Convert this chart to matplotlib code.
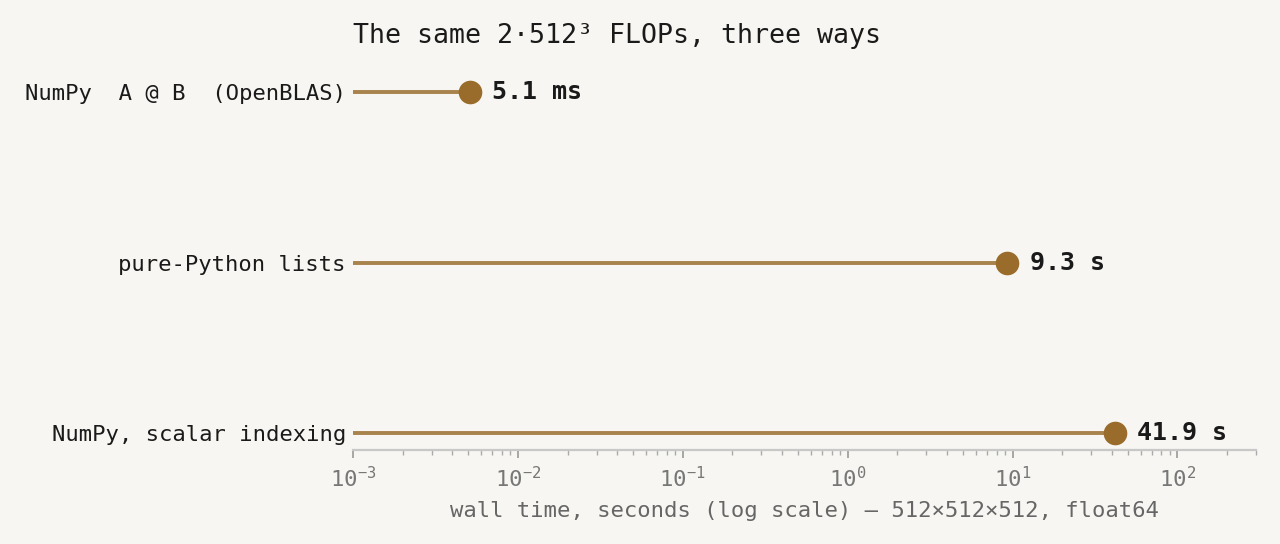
import matplotlib.pyplot as plt
import numpy as np

methods = ['NumPy  A @ B  (OpenBLAS)', 'pure-Python lists', 'NumPy, scalar indexing']
seconds = [0.0051, 9.3, 41.9]
value_labels = ['5.1 ms', '9.3 s', '41.9 s']

bg = '#f7f6f2'
line_c = '#a8834b'
dot_c = '#9a6c2c'

plt.rcParams['font.family'] = ['DejaVu Sans Mono']

fig = plt.figure(figsize=(6.4, 2.72), dpi=200, facecolor=bg)
ax = fig.add_axes([0.2758, 0.1728, 0.7055, 0.689])
ax.set_facecolor(bg)

y = np.arange(len(methods))
ax.hlines(y, 1e-3, seconds, color=line_c, lw=1.4, zorder=2)
ax.plot(seconds, y, 'o', color=dot_c, ms=7.5, zorder=3)
for xi, yi, lab in zip(seconds, y, value_labels):
    ax.annotate(lab, (xi, yi), xytext=(8, 0), textcoords='offset points',
                va='center', ha='left', fontsize=9, fontweight='bold', color='#1a1a1a')

ax.set_xscale('log')
ax.set_xlim(1e-3, 300)
ax.set_ylim(2.1, -0.1)
ax.set_yticks(y)
ax.set_yticklabels(methods, fontsize=8, color='#1a1a1a')
ax.tick_params(axis='y', length=0, pad=2.6)
ax.tick_params(axis='x', which='major', length=3, width=0.6, color='#999999',
               labelsize=8, labelcolor='#777777', pad=2.6)
ax.tick_params(axis='x', which='minor', length=1.8, width=0.5, color='#aaaaaa')

for s in ['left', 'right', 'top']:
    ax.spines[s].set_visible(False)
ax.spines['bottom'].set_color('#c8c8c8')
ax.spines['bottom'].set_linewidth(0.8)

ax.set_xlabel('wall time, seconds (log scale) — 512×512×512, float64',
              fontsize=8, color='#666666', labelpad=3.6)
ax.set_title('The same 2·512³ FLOPs, three ways', loc='left', fontsize=9.6,
             color='#1a1a1a', pad=11.5)

fig.savefig('out.png', dpi=200, facecolor=bg)
